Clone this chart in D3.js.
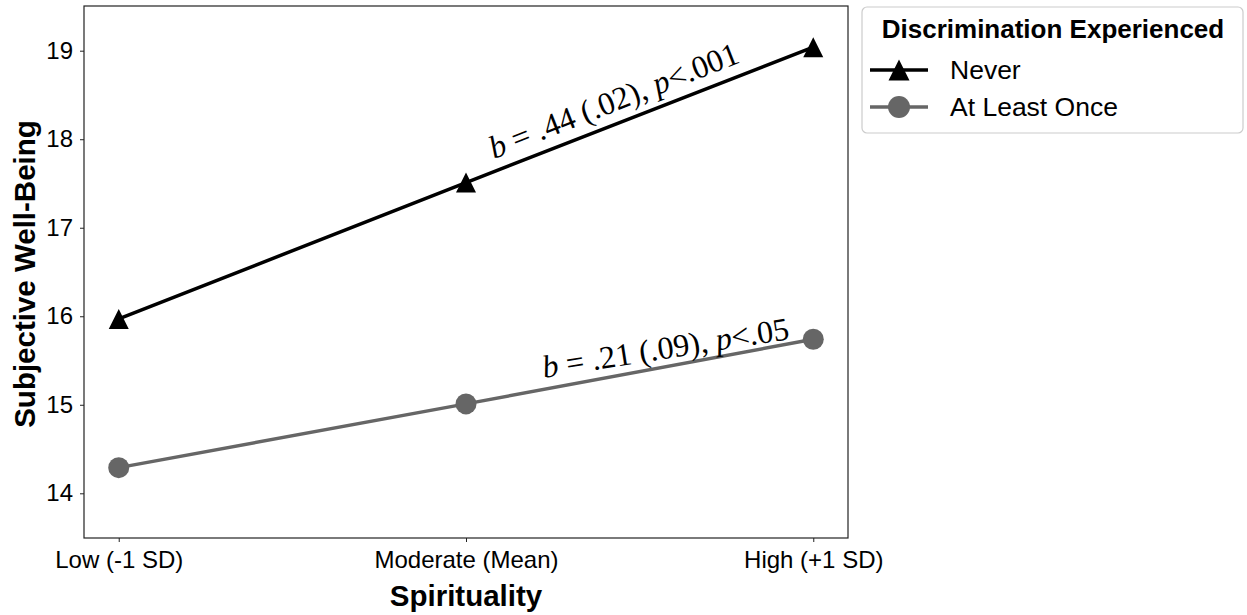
<!DOCTYPE html>
<html><head><meta charset="utf-8">
<script src="https://cdn.jsdelivr.net/npm/d3@7"></script>
<style>body{margin:0;background:#fff}svg{display:block}</style>
</head><body>
<script>
const categories = ["Low (-1 SD)", "Moderate (Mean)", "High (+1 SD)"];
const neverValues = [15.97, 17.51, 19.04];
const onceValues = [14.29, 15.01, 15.74];
const yTicks = [14, 15, 16, 17, 18, 19];
const seriesNames = ["Never", "At Least Once"];
const legendTitle = "Discrimination Experienced";
const xTitle = "Spirituality";
const yTitle = "Subjective Well-Being";

const W = 1247, H = 615;
const m = {left: 84, top: 6, right: 848, bottom: 538};
const svg = d3.select("body").append("svg").attr("width", W).attr("height", H);
const sans = "'Liberation Sans', Arial, sans-serif";
const serif = "'Liberation Serif', 'Times New Roman', serif";

const x = d3.scalePoint().domain(categories).range([m.left, m.right]).padding(0.1);
const y = d3.scaleLinear().domain([13.495, 19.505]).range([m.bottom, m.top]);

// frame
svg.append("rect").attr("x", m.left).attr("y", m.top).attr("width", m.right - m.left)
  .attr("height", m.bottom - m.top).attr("fill", "none").attr("stroke", "#222").attr("stroke-width", 1.2);

const yAxis = svg.append("g").attr("transform", `translate(${m.left},0)`)
  .call(d3.axisLeft(y).tickValues(yTicks).tickSize(4).tickPadding(7).tickFormat(d3.format("d")));
const xAxis = svg.append("g").attr("transform", `translate(0,${m.bottom})`)
  .call(d3.axisBottom(x).tickSize(4).tickPadding(9));
[yAxis, xAxis].forEach(g => {
  g.select(".domain").remove();
  g.selectAll("line").attr("stroke", "#222").attr("stroke-width", 1);
  g.selectAll("text").attr("font-family", sans).attr("font-size", 24).attr("fill", "#000");
});

svg.append("text").attr("x", (m.left + m.right) / 2).attr("y", 606).attr("text-anchor", "middle")
  .attr("font-family", sans).attr("font-weight", "bold").attr("font-size", 29.5).text(xTitle);
svg.append("text").attr("transform", `translate(35,${(m.top + m.bottom) / 2 + 2}) rotate(-90)`)
  .attr("text-anchor", "middle").attr("font-family", sans).attr("font-weight", "bold")
  .attr("font-size", 29.5).text(yTitle);

const series = [
  {name: seriesNames[0], values: neverValues, color: "#000", shape: "tri"},
  {name: seriesNames[1], values: onceValues, color: "#666", shape: "circ"}
];
const line = d3.line().x((d, i) => x(categories[i])).y(d => y(d));
const triPath = (r) => `M0,${-r}L${r},${r}L${-r},${r}Z`;

function marker(g, shape, cx, cy, color, r) {
  if (shape === "tri") g.append("path").attr("d", triPath(r)).attr("transform", `translate(${cx},${cy})`).attr("fill", color);
  else g.append("circle").attr("cx", cx).attr("cy", cy).attr("r", r + 0.5).attr("fill", color);
}

series.forEach(s => {
  svg.append("path").attr("d", line(s.values)).attr("fill", "none")
    .attr("stroke", s.color).attr("stroke-width", 3.5);
  const g = svg.append("g");
  s.values.forEach((v, i) => marker(g, s.shape, x(categories[i]), y(v), s.color, 10));
});

// annotations
function annot(xp, yp, angle, parts) {
  const t = svg.append("text").attr("transform", `translate(${xp},${yp}) rotate(${angle})`)
    .attr("font-family", serif).attr("font-size", 32).attr("fill", "#000");
  parts.forEach(p => t.append("tspan").attr("font-style", p[1] ? "italic" : "normal").text(p[0]));
}
annot(494, 159, -21.4, [["b", 1], [" = .44 (.02), ", 0], ["p", 1], ["<.001", 0]]);
annot(544, 378, -9, [["b", 1], [" = .21 (.09), ", 0], ["p", 1], ["<.05", 0]]);

// legend
const lg = svg.append("g");
lg.append("rect").attr("x", 862).attr("y", 7).attr("width", 381).attr("height", 126).attr("rx", 5)
  .attr("fill", "#fff").attr("stroke", "#ccc").attr("stroke-width", 1.2);
lg.append("text").attr("x", 1053).attr("y", 38).attr("text-anchor", "middle").attr("font-family", sans)
  .attr("font-weight", "bold").attr("font-size", 26).text(legendTitle);
series.forEach((s, i) => {
  const yy = 70 + i * 37;
  lg.append("line").attr("x1", 870).attr("x2", 928).attr("y1", yy).attr("y2", yy)
    .attr("stroke", s.color).attr("stroke-width", 3.5);
  marker(lg, s.shape, 899, yy, s.color, 10.5);
  lg.append("text").attr("x", 950).attr("y", yy + 9).attr("font-family", sans).attr("font-size", 26.5).text(s.name);
});
</script>
</body></html>
